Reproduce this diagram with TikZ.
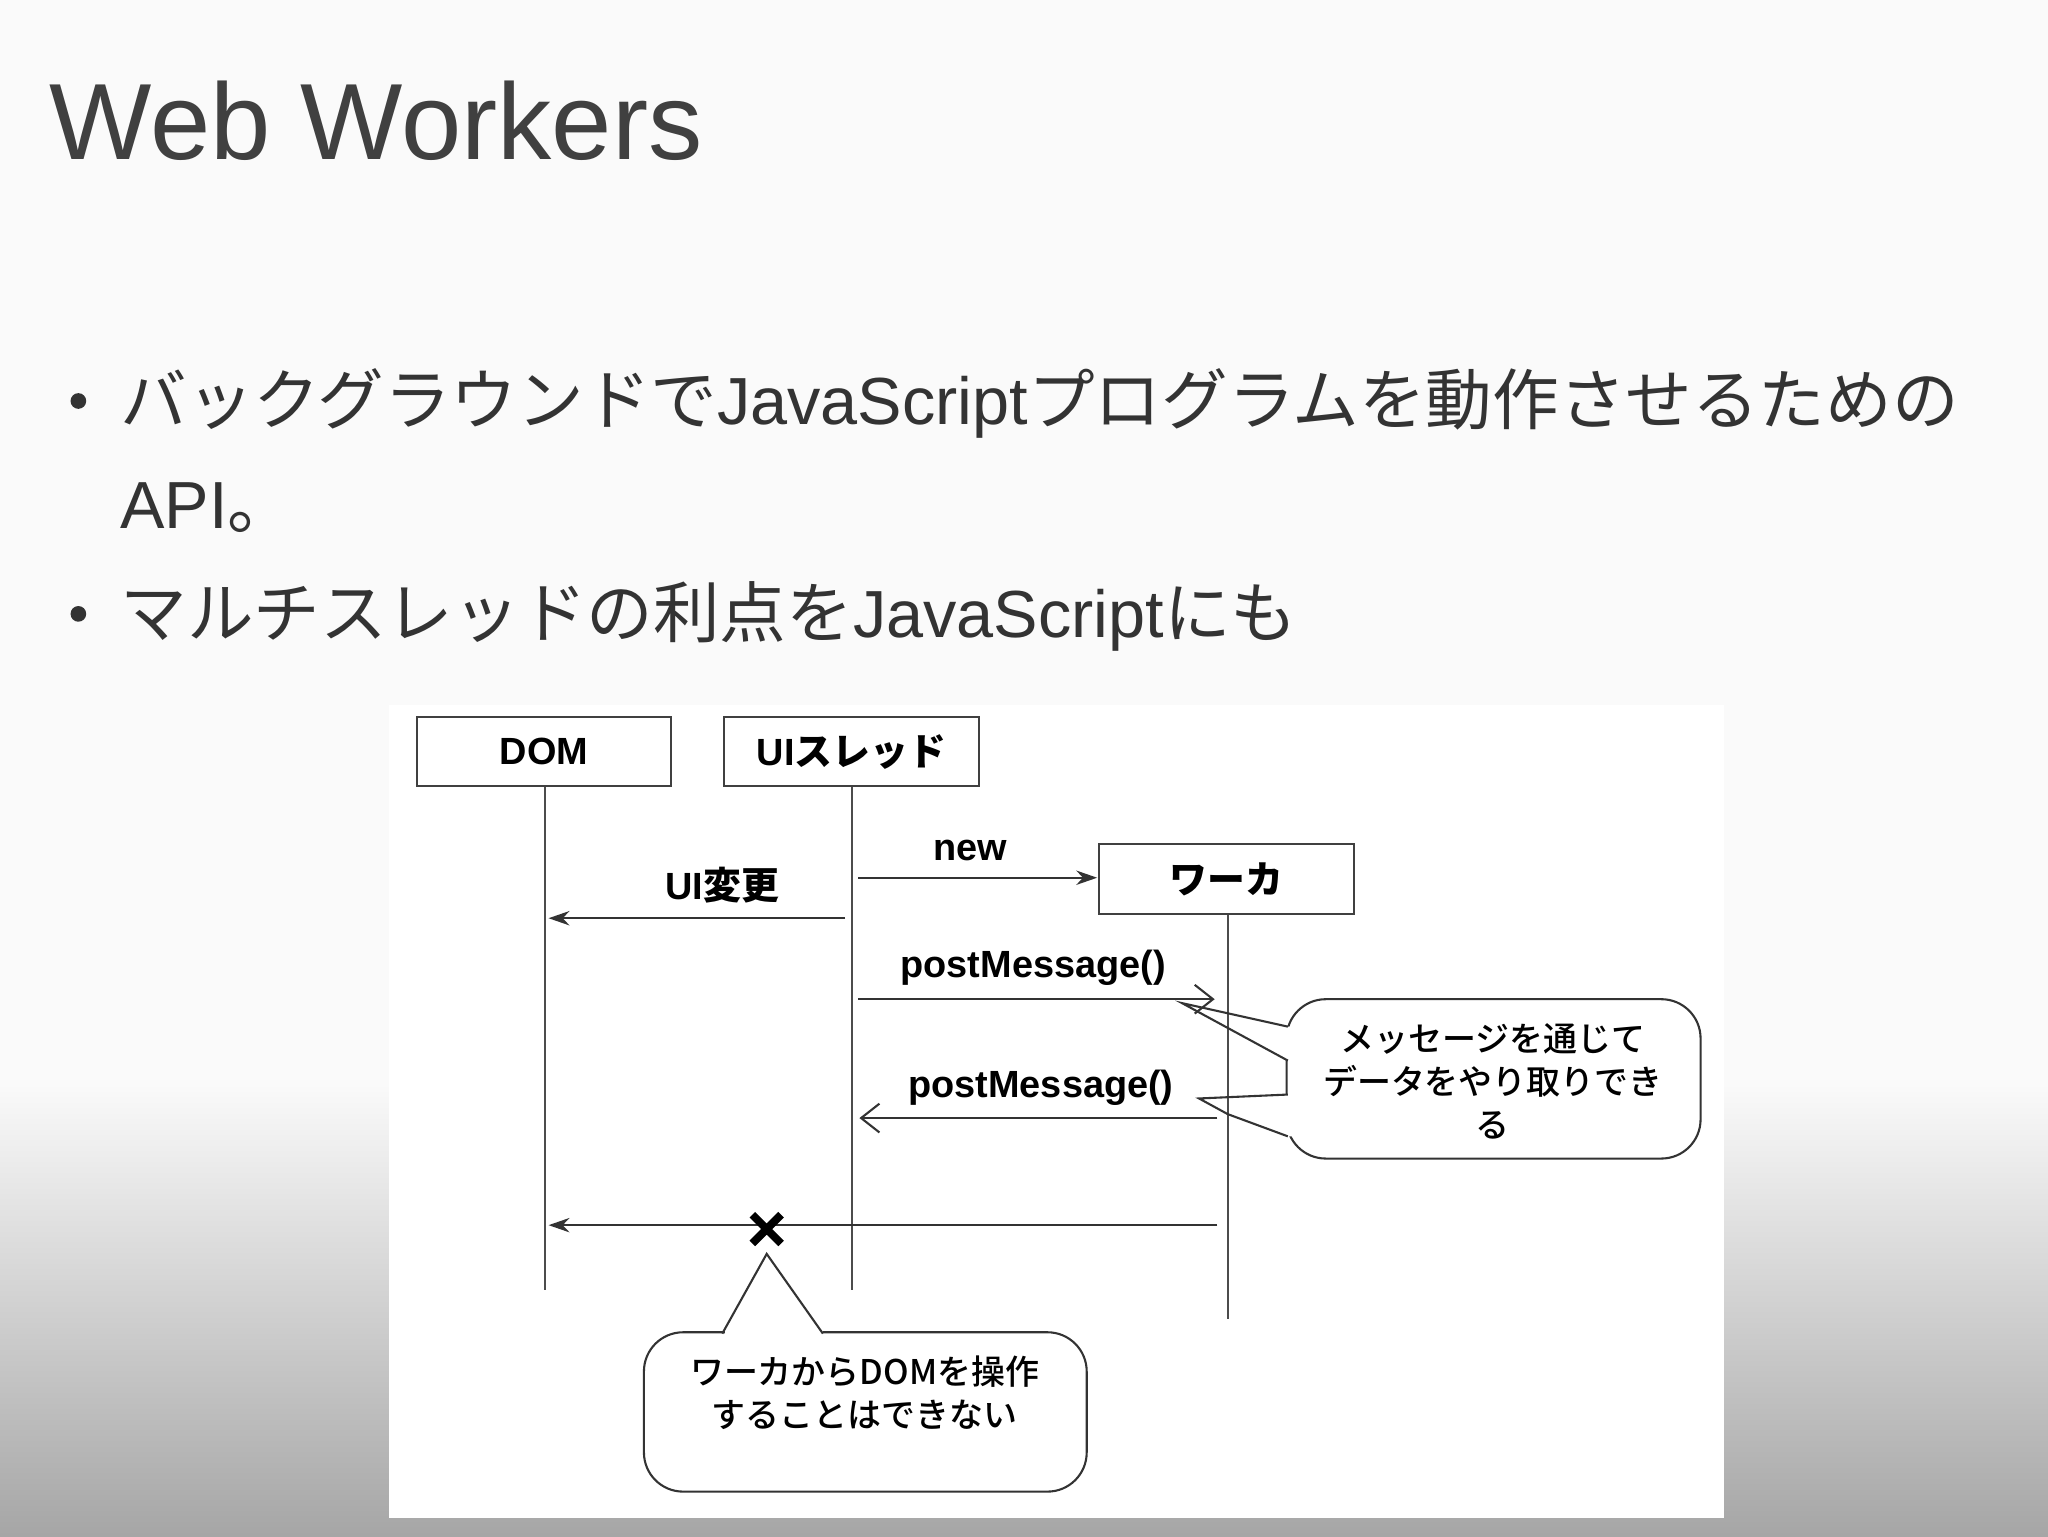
\documentclass[tikz,border=0pt]{standalone}
\usepackage{fontspec}
\setmainfont{Liberation Sans}
\newfontfamily\cjk{Noto Sans CJK JP}
\newfontfamily\cjkb{Noto Sans CJK JP Medium}
\usetikzlibrary{arrows.meta}
\definecolor{txt}{HTML}{333333}
\tikzset{
 lbox/.style={draw=black!75,line width=1.6pt,fill=white,minimum width=195pt,minimum height=53pt,inner sep=0pt,font=\fontsize{29}{30}\selectfont\bfseries},
 life/.style={black!70,line width=1.6pt},
 msg/.style={black!80,line width=1.6pt},
 fill tip/.style={-{Stealth[length=16pt,width=11pt]}},
 open tip/.style={-{Straight Barb[length=14pt,width=22pt,line width=1.6pt]}},
 lbl/.style={font=\fontsize{29}{30}\selectfont\bfseries,inner sep=0pt},
 callout/.style={draw=black!80,line width=1.6pt,fill=white,rounded corners=30pt},
 ctext/.style={font=\cjkb\fontsize{26}{33}\selectfont,align=center,inner sep=0pt}
}
\begin{document}
\begin{tikzpicture}[x=1pt,y=-1pt]
\useasboundingbox (0,0) rectangle (1568,1176);
\fill[white!98!black] (0,0) rectangle (1568,1176);
\shade[top color=white!98!black,bottom color=black!35] (0,830) rectangle (1568,1176);
\fill[white] (298,540) rectangle (1320,1162);
\node[anchor=base west,text=black!75,font=\fontsize{83}{96}\selectfont,inner sep=0pt] (title) at (38,122) {Web Workers};
\node[anchor=base west,text=txt,font=\fontsize{51}{55}\selectfont,inner sep=0pt] (b1) at (92,325) {{\cjk バックグラウンドで}JavaScript{\cjk プログラムを動作させるための}};
\node[anchor=base west,text=txt,font=\fontsize{51}{55}\selectfont,inner sep=0pt] (b1b) at (92,405) {API{\cjk 。}};
\node[anchor=base west,text=txt,font=\fontsize{51}{55}\selectfont,inner sep=0pt] (b2) at (92,488) {{\cjk マルチスレッドの利点を}JavaScript{\cjk にも}};
\fill[txt] (60,307) circle (6pt) (60,470) circle (6pt);
% lifeline boxes
\node[lbox] (dom) at (416.5,575.5) {DOM};
\node[lbox] (ui) at (652,575.5) {UI{\cjkb スレッド}};
\node[lbox] (wk) at (939,673) {\cjkb ワーカ};
\coordinate (domE) at (417,988);
\coordinate (uiE) at (652,988);
\coordinate (wkE) at (940,1010);
\draw[life] (dom.south -| domE) -- (domE);
\draw[life] (ui.south -| uiE) -- (uiE);
\draw[life] (wk.south -| wkE) -- (wkE);
% messages
\coordinate (n1) at (657,672); \coordinate (n2) at (840,672);
\draw[msg,fill tip] (n1) -- (n2);
\node[lbl] (nl) at (743,651) {new};
\coordinate (u1) at (647,703); \coordinate (u2) at (420,703);
\draw[msg,fill tip] (u1) -- (u2);
\node[lbl] (ul) at (553,678) {UI{\cjkb 変更}};
\coordinate (p1) at (657,765); \coordinate (p2) at (930,765);
\draw[msg,open tip] (p1) -- (p2);
\node[lbl] (pl1) at (791,741) {postMessage()};
\coordinate (q1) at (932,856); \coordinate (q2) at (658,856);
\draw[msg,open tip] (q1) -- (q2);
\node[lbl] (pl2) at (797,833) {postMessage()};
\coordinate (x1) at (932,938); \coordinate (x2) at (420,938);
\draw[msg,fill tip] (x1) -- (x2);
\coordinate (xm) at (587,941);
\draw[black,line width=6pt] ([shift={(-11,-11)}]xm) -- ([shift={(11,11)}]xm) ([shift={(-11,11)}]xm) -- ([shift={(11,-11)}]xm);
% callout 1
\draw[callout] (985,765) rectangle (1302,887);
\fill[white] (980,786) rectangle (992,812) (980,838) rectangle (992,870);
\draw[msg] (986,786) -- (905,768) -- (986,812);
\draw[msg] (986,838) -- (918,841) -- (940,853) -- (986,870);
\node[ctext] (c1) at (1143,828) {メッセージを通じて\\データをやり取りでき\\る};
% callout 2
\draw[callout] (493,1020) rectangle (832,1142);
\fill[white] (555,1014) rectangle (630,1026);
\draw[msg] (553,1021) -- (587,960) -- (630,1021);
\node[ctext] (c2) at (662,1066) {ワーカからDOMを操作\\することはできない};
\end{tikzpicture}
\end{document}
